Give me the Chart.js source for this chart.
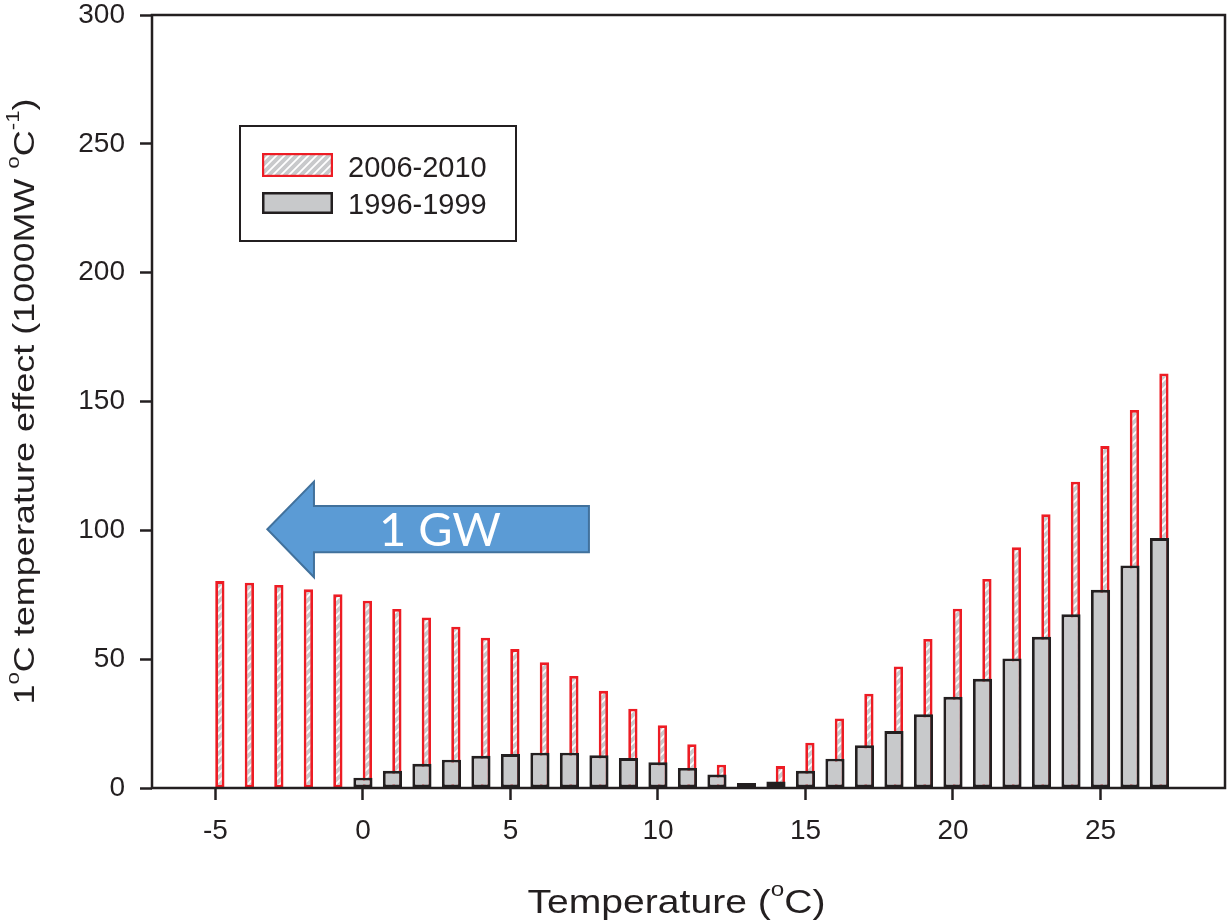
<!DOCTYPE html>
<html><head><meta charset="utf-8">
<script src="https://cdn.jsdelivr.net/npm/chart.js@4.4.0/dist/chart.umd.min.js"></script>
<style>html,body{margin:0;padding:0;background:#fff}#wrap{width:1230px;height:922px;position:relative}</style>
</head><body><div id="wrap"><canvas id="c" width="1230" height="922"></canvas></div>
<script>
// ---- data ----
const temperatures = [-5,-4,-3,-2,-1,0,1,2,3,4,5,6,7,8,9,10,11,12,13,14,15,16,17,18,19,20,21,22,23,24,25,26,27];
const effect2006_2010 = [80.3,79.7,78.8,77.1,75.2,72.7,69.5,66.2,62.6,58.3,53.9,48.8,43.5,37.7,30.8,24.4,17.0,9.0,0.5,8.5,17.6,27.0,36.6,47.2,57.8,69.6,81.1,93.4,106.2,118.9,132.7,146.7,160.9];
const effect1996_1999 = [null,null,null,null,null,4.0,6.7,9.4,11.0,12.5,13.2,13.7,13.7,12.7,11.6,10.0,7.8,5.2,1.9,2.5,6.7,11.4,16.6,22.1,28.6,35.4,42.4,50.3,58.7,67.4,76.9,86.4,97.0];
const xTickValues = [-5,0,5,10,15,20,25];
const yTickValues = [0,50,100,150,200,250,300];
const seriesNames = ['2006-2010','1996-1999'];
const arrowLabel = '1 GW';
// arrow outline in data units: [x, y]
const arrowShape = [[-3.24,100.4],[-1.66,118.9],[-1.66,109.4],[7.66,109.4],[7.66,91.5],[-1.66,91.5],[-1.66,81.8]];
const arrowLabelAt = [2.61, 99.7];

// ---- styles ----
const INK = '#231f20';
const RED = '#ed1c24';
const GREY = '#c8c9cb';
const FONT = '"Liberation Sans", Arial, Helvetica, sans-serif';

function makeHatch(){
  const s = 8, cv = document.createElement('canvas');
  cv.width = s; cv.height = s;
  const g = cv.getContext('2d');
  g.fillStyle = GREY; g.fillRect(0,0,s,s);
  g.strokeStyle = '#ffffff'; g.lineWidth = 1.8; g.lineCap = 'square';
  g.beginPath();
  g.moveTo(0,s); g.lineTo(s,0);
  g.moveTo(-s/2,s/2); g.lineTo(s/2,-s/2);
  g.moveTo(s/2,s*1.5); g.lineTo(s*1.5,s/2);
  g.stroke();
  return g.createPattern(cv,'repeat');
}
const hatch = makeHatch();

function drawRich(ctx, segs, size, stretch){
  let total = 0;
  const parts = segs.map(s => {
    const fs = s.sup ? size*0.62 : size;
    ctx.font = fs + 'px ' + FONT;
    const w = ctx.measureText(s.t).width;
    total += w;
    return {t:s.t, fs, w, dy: s.sup ? -size*0.5 : 0};
  });
  ctx.save();
  ctx.scale(stretch,1);
  let x = -total/2;
  ctx.textBaseline = 'alphabetic'; ctx.textAlign = 'left';
  for (const p of parts){
    ctx.font = p.fs + 'px ' + FONT;
    ctx.fillText(p.t, x, p.dy);
    x += p.w;
  }
  ctx.restore();
}

const decor = {
  id:'decor',
  afterDatasetsDraw(chart){
    const {ctx, chartArea:a} = chart;
    ctx.save();
    ctx.strokeStyle = INK; ctx.lineWidth = 2.5;
    ctx.strokeRect(a.left, a.top, a.right-a.left, a.bottom-a.top);
    ctx.restore();
  },
  afterDraw(chart){
    const {ctx, chartArea:a, scales} = chart;
    const xs = scales.x, ys = scales.y;
    // axis titles
    ctx.save();
    ctx.fillStyle = INK;
    ctx.translate((a.left+a.right)/2 - 12, 912.5);
    drawRich(ctx, [{t:'Temperature ('},{t:'o',sup:true},{t:'C)'}], 34, 1.15);
    ctx.restore();
    ctx.save();
    ctx.fillStyle = INK;
    ctx.translate(33.5, (a.top+a.bottom)/2);
    ctx.rotate(-Math.PI/2);
    drawRich(ctx, [{t:'1'},{t:'o',sup:true},{t:'C temperature effect (1000MW '},{t:'o',sup:true},{t:'C'},{t:'-1',sup:true},{t:')'}], 30, 1.2);
    ctx.restore();

    // legend box
    const lx = a.left + 88, ly = a.top + 111;
    ctx.save();
    ctx.fillStyle = '#fff';
    ctx.fillRect(lx, ly, 276, 115);
    ctx.strokeStyle = INK; ctx.lineWidth = 2;
    ctx.strokeRect(lx, ly, 276, 115);
    // swatch 1
    ctx.fillStyle = hatch;
    ctx.fillRect(lx+22, ly+27, 71, 24);
    ctx.strokeStyle = RED; ctx.lineWidth = 2.2;
    ctx.strokeRect(lx+23.1, ly+28.1, 68.8, 21.8);
    // swatch 2
    ctx.fillStyle = GREY;
    ctx.fillRect(lx+22, ly+66, 71, 22);
    ctx.strokeStyle = INK; ctx.lineWidth = 2.5;
    ctx.strokeRect(lx+23.25, ly+67.25, 68.5, 19.5);
    ctx.fillStyle = INK;
    ctx.font = '29px ' + FONT;
    ctx.textBaseline = 'alphabetic'; ctx.textAlign = 'left';
    ctx.fillText(seriesNames[0], lx+108, ly+50.5);
    ctx.fillText(seriesNames[1], lx+108, ly+87.5);
    ctx.restore();

    // arrow annotation
    ctx.save();
    ctx.beginPath();
    arrowShape.forEach(([vx,vy],i)=>{
      const px = xs.getPixelForValue(vx), py = ys.getPixelForValue(vy);
      if(i===0) ctx.moveTo(px,py); else ctx.lineTo(px,py);
    });
    ctx.closePath();
    ctx.fillStyle = '#5b9bd5'; ctx.fill();
    ctx.strokeStyle = '#41719c'; ctx.lineWidth = 2; ctx.stroke();
    ctx.fillStyle = '#ffffff';
    ctx.font = '47px Lato, "Open Sans", sans-serif';
    ctx.textAlign = 'center'; ctx.textBaseline = 'middle';
    ctx.fillText(arrowLabel, xs.getPixelForValue(arrowLabelAt[0]), ys.getPixelForValue(arrowLabelAt[1]));
    ctx.restore();
  }
};

const X_MIN = -7.15, X_MAX = 29.22, RED_SHIFT = 0.15;
const tickFont = {family: FONT, size: 28};

new Chart(document.getElementById('c'), {
  type:'bar',
  data:{
    datasets:[
      {label:seriesNames[0], xAxisID:'xr', order:2, grouped:false,
       data: temperatures.map((t,i)=>({x:t, y:effect2006_2010[i]})),
       backgroundColor: hatch, borderColor: RED, borderWidth: 2.8, borderSkipped:false,
       categoryPercentage:1, barPercentage:0.315},
      {label:seriesNames[1], xAxisID:'x', order:1, grouped:false,
       data: temperatures.map((t,i)=>({x:t, y:effect1996_1999[i]})),
       backgroundColor: GREY, borderColor: INK, borderWidth: 2.9, borderSkipped:false,
       categoryPercentage:1, barPercentage:0.65}
    ]
  },
  options:{
    responsive:false, animation:false, devicePixelRatio:1,
    layout:{padding:{top:15,right:5,left:0,bottom:0}},
    plugins:{legend:{display:false}, tooltip:{enabled:false}, title:{display:false}},
    scales:{
      x:{type:'linear', axis:'x', position:'bottom', min:X_MIN, max:X_MAX, offset:false,
         afterBuildTicks:(s)=>{ s.ticks = xTickValues.map(v=>({value:v})); },
         afterFit:(s)=>{ s.height = 134; s.paddingLeft = 0; s.paddingRight = 0; },
         border:{display:false},
         grid:{display:true, drawOnChartArea:false, drawTicks:true, tickLength:12, tickWidth:2.5, tickColor:INK, offset:false},
         ticks:{font:tickFont, color:INK, padding:14, maxRotation:0, autoSkip:false, includeBounds:false, callback:(v)=>String(v)}
      },
      xr:{type:'linear', axis:'x', position:'bottom', display:false, offset:false,
          min:X_MIN-RED_SHIFT, max:X_MAX-RED_SHIFT},
      y:{type:'linear', position:'left', min:0, max:300,
         afterBuildTicks:(s)=>{ s.ticks = yTickValues.map(v=>({value:v})); },
         afterFit:(s)=>{ s.width = 152; s.paddingTop = 0; s.paddingBottom = 0; },
         border:{display:false},
         grid:{display:true, drawOnChartArea:false, drawTicks:true, tickLength:12, tickWidth:2.5, tickColor:INK},
         ticks:{font:tickFont, color:INK, padding:15, includeBounds:false, callback:(v)=>String(v)}
      }
    }
  },
  plugins:[decor]
});
</script></body></html>
